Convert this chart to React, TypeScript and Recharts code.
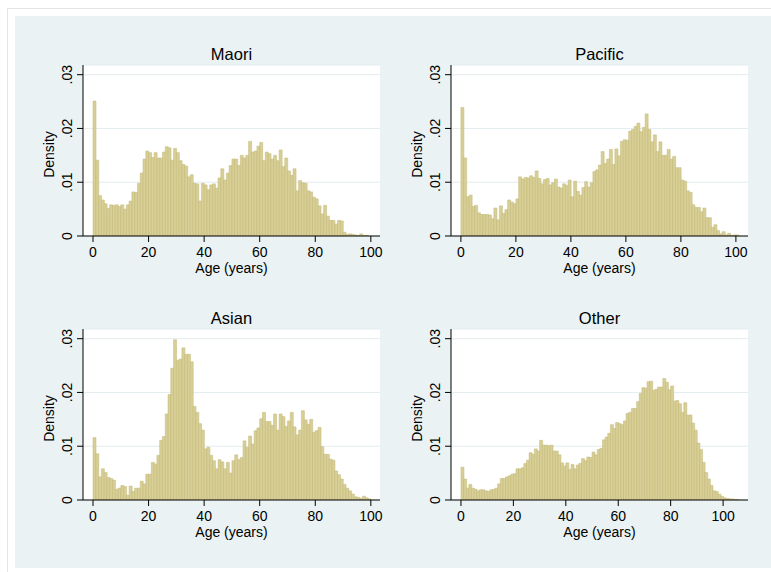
import React from 'react';
import { BarChart, Bar, XAxis, YAxis, CartesianGrid } from 'recharts';

// density per one-year age bin, starting at age 0
const maori = [
  0.0251, 0.0141, 0.0075, 0.0067, 0.006, 0.0051, 0.0058, 0.0057, 0.0058, 0.0055,
  0.0058, 0.005, 0.0058, 0.0065, 0.0082, 0.0081, 0.0098, 0.0117, 0.0143, 0.0158,
  0.0155, 0.0146, 0.0155, 0.0145, 0.0145, 0.0156, 0.0166, 0.0164, 0.0141, 0.0163,
  0.0155, 0.014, 0.0133, 0.013, 0.011, 0.0114, 0.0098, 0.0097, 0.0065, 0.0098,
  0.0095, 0.0086, 0.0095, 0.0097, 0.0089, 0.0108, 0.0125, 0.0104, 0.0117, 0.0131,
  0.0143, 0.0143, 0.0131, 0.015, 0.0145, 0.015, 0.0176, 0.0156, 0.0158, 0.0167,
  0.0174, 0.014, 0.0156, 0.0153, 0.0143, 0.015, 0.014, 0.016, 0.0129, 0.0145,
  0.0121, 0.0113, 0.0125, 0.0084, 0.0103, 0.0099, 0.0098, 0.0084, 0.0082, 0.0072,
  0.0069, 0.0056, 0.0041, 0.0057, 0.0037, 0.0029, 0.0029, 0.0022, 0.0029, 0.0028,
  0.0007, 0.0003, 0.0004, 0.0003, 0.0002, 0.0001, 0.0004, 0.0001, 0.0001,
];

const pacific = [
  0.0239, 0.0145, 0.0073, 0.0076, 0.0055, 0.0057, 0.0043, 0.004, 0.004, 0.004,
  0.0039, 0.0032, 0.0052, 0.003, 0.0056, 0.0042, 0.0049, 0.0067, 0.0063, 0.006,
  0.0069, 0.011, 0.0106, 0.0109, 0.0108, 0.0112, 0.0109, 0.0121, 0.0107, 0.0097,
  0.0105, 0.0107, 0.0095, 0.0099, 0.0106, 0.0091, 0.0089, 0.0097, 0.0094, 0.0104,
  0.0073, 0.0102, 0.0083, 0.0076, 0.009, 0.0101, 0.0091, 0.0099, 0.012, 0.0123,
  0.0132, 0.0157, 0.0135, 0.0143, 0.0161, 0.0133, 0.0162, 0.0149, 0.0176, 0.0179,
  0.0178, 0.0195, 0.0198, 0.0204, 0.021, 0.0194, 0.0202, 0.0227, 0.0198, 0.0175,
  0.0188, 0.0157, 0.0175, 0.015, 0.015, 0.0161, 0.0143, 0.0148, 0.0127, 0.0127,
  0.0104, 0.0102, 0.0084, 0.0081, 0.0058, 0.0053, 0.0053, 0.0045, 0.0052, 0.0034,
  0.0034, 0.0016, 0.0021, 0.001, 0.0004, 0.0008, 0.0002, 0.0005, 0.0001, 0.0002,
  0.0002,
];

const asian = [
  0.0116, 0.0086, 0.0043, 0.0058, 0.0051, 0.0042, 0.004, 0.0037, 0.002, 0.0022,
  0.0027, 0.0025, 0.0009, 0.0026, 0.0016, 0.0022, 0.0022, 0.0035, 0.003, 0.0048,
  0.0048, 0.007, 0.0067, 0.0083, 0.0111, 0.0118, 0.016, 0.0196, 0.0245, 0.0298,
  0.026, 0.0262, 0.0283, 0.0271, 0.0271, 0.0257, 0.0174, 0.0163, 0.0142, 0.013,
  0.0095, 0.0098, 0.0083, 0.0073, 0.0058, 0.0075, 0.0071, 0.0058, 0.007, 0.005,
  0.0073, 0.0084, 0.0075, 0.0079, 0.011, 0.0098, 0.0119, 0.0104, 0.0129, 0.0134,
  0.0151, 0.0163, 0.0146, 0.0146, 0.0139, 0.016, 0.013, 0.016, 0.0155, 0.0137,
  0.0147, 0.0163, 0.0136, 0.0121, 0.013, 0.0166, 0.0149, 0.0141, 0.015, 0.0126,
  0.0129, 0.0135, 0.0099, 0.0085, 0.0085, 0.0076, 0.0074, 0.0054, 0.0047, 0.0039,
  0.0029, 0.0022, 0.0017, 0.0011, 0.0006, 0.0005, 0.0003, 0.0007, 0.0004, 0.0002,
];

const other = [
  0.0061, 0.0039, 0.0022, 0.0029, 0.0022, 0.002, 0.0017, 0.0019, 0.0019, 0.0017,
  0.0016, 0.0019, 0.002, 0.0022, 0.003, 0.004, 0.004, 0.0043, 0.0045, 0.0048,
  0.0049, 0.0058, 0.0058, 0.006, 0.0068, 0.0074, 0.0088, 0.0085, 0.0095, 0.0091,
  0.0111, 0.0102, 0.0102, 0.0101, 0.0102, 0.0091, 0.0091, 0.0084, 0.0069, 0.0063,
  0.0069, 0.0057, 0.0066, 0.0058, 0.0065, 0.0068, 0.0077, 0.0073, 0.008, 0.0079,
  0.0089, 0.0084, 0.0094, 0.0096, 0.0112, 0.0117, 0.0124, 0.014, 0.0133, 0.0144,
  0.0142, 0.014, 0.0147, 0.0161, 0.0163, 0.017, 0.017, 0.0183, 0.0198, 0.0209,
  0.0208, 0.022, 0.0221, 0.0204, 0.0206, 0.021, 0.021, 0.0226, 0.0219, 0.0205,
  0.0212, 0.0184, 0.0185, 0.0179, 0.0163, 0.0181, 0.0158, 0.0158, 0.0143, 0.013,
  0.0106, 0.0094, 0.007, 0.0051, 0.0039, 0.0027, 0.0017, 0.0016, 0.0011, 0.0007,
  0.0004, 0.0003, 0.0002, 0.0002, 0.0001, 0.0001,
];

const xTicks = [0, 20, 40, 60, 80, 100];
const yTicks = [0, 0.01, 0.02, 0.03];

const FONT = '"Liberation Sans", Arial, Helvetica, sans-serif';
const BAR_FILL = '#d8cf97';
const BAR_EDGE = '#c1b775';
const BG = '#eaf2f3';

const toBins = (values: number[]) => values.map((d, i) => ({ age: i + 0.5, density: d }));

const fmtY = (v: number) => (v === 0 ? '0' : v.toFixed(2).replace(/^0/, ''));

const YTick = ({ x, y, payload }: any) => (
  <text
    x={x}
    y={y}
    transform={`rotate(-90 ${x} ${y})`}
    textAnchor="middle"
    fontSize={14}
    fill="#000"
    fontFamily={FONT}
  >
    {fmtY(payload.value)}
  </text>
);

// chart box: y-axis strip 53px, plot 297 x 171
const W = 358;
const H = 221;

interface PanelProps {
  data: number[];
  xMax: number;
  xMin: number;
  left: number;
  top: number;
}

const Panel = ({ data, xMin, xMax, left, top }: PanelProps) => (
  <div style={{ position: 'absolute', left, top }}>
    <BarChart
      width={W}
      height={H}
      data={toBins(data)}
      margin={{ top: 5, right: 8, left: 0, bottom: 0 }}
      barCategoryGap={0}
      barGap={0}
      style={{ fontFamily: FONT }}
    >
      <CartesianGrid vertical={false} stroke="#e3ecee" fill="#fff" />
      <XAxis
        type="number"
        dataKey="age"
        domain={[xMin, xMax]}
        ticks={xTicks}
        allowDataOverflow
        height={45}
        tickSize={6}
        tickMargin={5}
        axisLine={{ stroke: '#000' }}
        tickLine={{ stroke: '#000' }}
        tick={{ fill: '#000', fontSize: 14 }}
        label={{ value: 'Age (years)', position: 'insideBottom', offset: 8, fill: '#000', fontSize: 14 }}
      />
      <YAxis
        type="number"
        domain={[0, 0.0318]}
        ticks={yTicks}
        allowDataOverflow
        width={53}
        tickSize={6}
        tickMargin={5}
        axisLine={{ stroke: '#000' }}
        tickLine={{ stroke: '#000' }}
        tick={<YTick />}
      />
      <Bar
        dataKey="density"
        fill={BAR_FILL}
        stroke={BAR_EDGE}
        strokeWidth={0.5}
        isAnimationActive={false}
      />
    </BarChart>
  </div>
);

const panels = [
  { title: 'Maori', data: maori, xMin: -3.6, xMax: 103.3, left: 30, top: 60 },
  { title: 'Pacific', data: pacific, xMin: -3.6, xMax: 104.4, left: 398, top: 60 },
  { title: 'Asian', data: asian, xMin: -3.6, xMax: 103.3, left: 30, top: 324 },
  { title: 'Other', data: other, xMin: -3.8, xMax: 109.5, left: 398, top: 324 },
];

export default function App() {
  return (
    <div
      style={{
        position: 'absolute',
        left: 0,
        top: 0,
        width: 771,
        height: 572,
        background: '#fff',
        overflow: 'hidden',
      }}
    >
      <div
        style={{
          position: 'absolute',
          left: 7,
          top: 8,
          width: 800,
          height: 600,
          border: '1px solid #e4e4e4',
        }}
      />
      <div style={{ position: 'absolute', left: 15, top: 16, width: 756, height: 552, background: BG }} />
      <svg
        width={771}
        height={572}
        style={{ position: 'absolute', left: 0, top: 0 }}
        fontFamily={FONT}
      >
        {panels.map((p) => {
          const cx = p.left + 53 + 297 / 2;
          const plotTop = p.top + 5;
          const ly = plotTop + 171 / 2 + 4;
          const lx = p.left + 24;
          return (
            <g key={p.title}>
              <text x={cx} y={plotTop - 5.5} textAnchor="middle" fontSize={16.5} fill="#000">
                {p.title}
              </text>
              <text
                x={lx}
                y={ly}
                transform={`rotate(-90 ${lx} ${ly})`}
                textAnchor="middle"
                fontSize={14}
                fill="#000"
              >
                Density
              </text>
            </g>
          );
        })}
      </svg>
      {panels.map((p) => (
        <Panel key={p.title} data={p.data} xMin={p.xMin} xMax={p.xMax} left={p.left} top={p.top} />
      ))}
    </div>
  );
}
